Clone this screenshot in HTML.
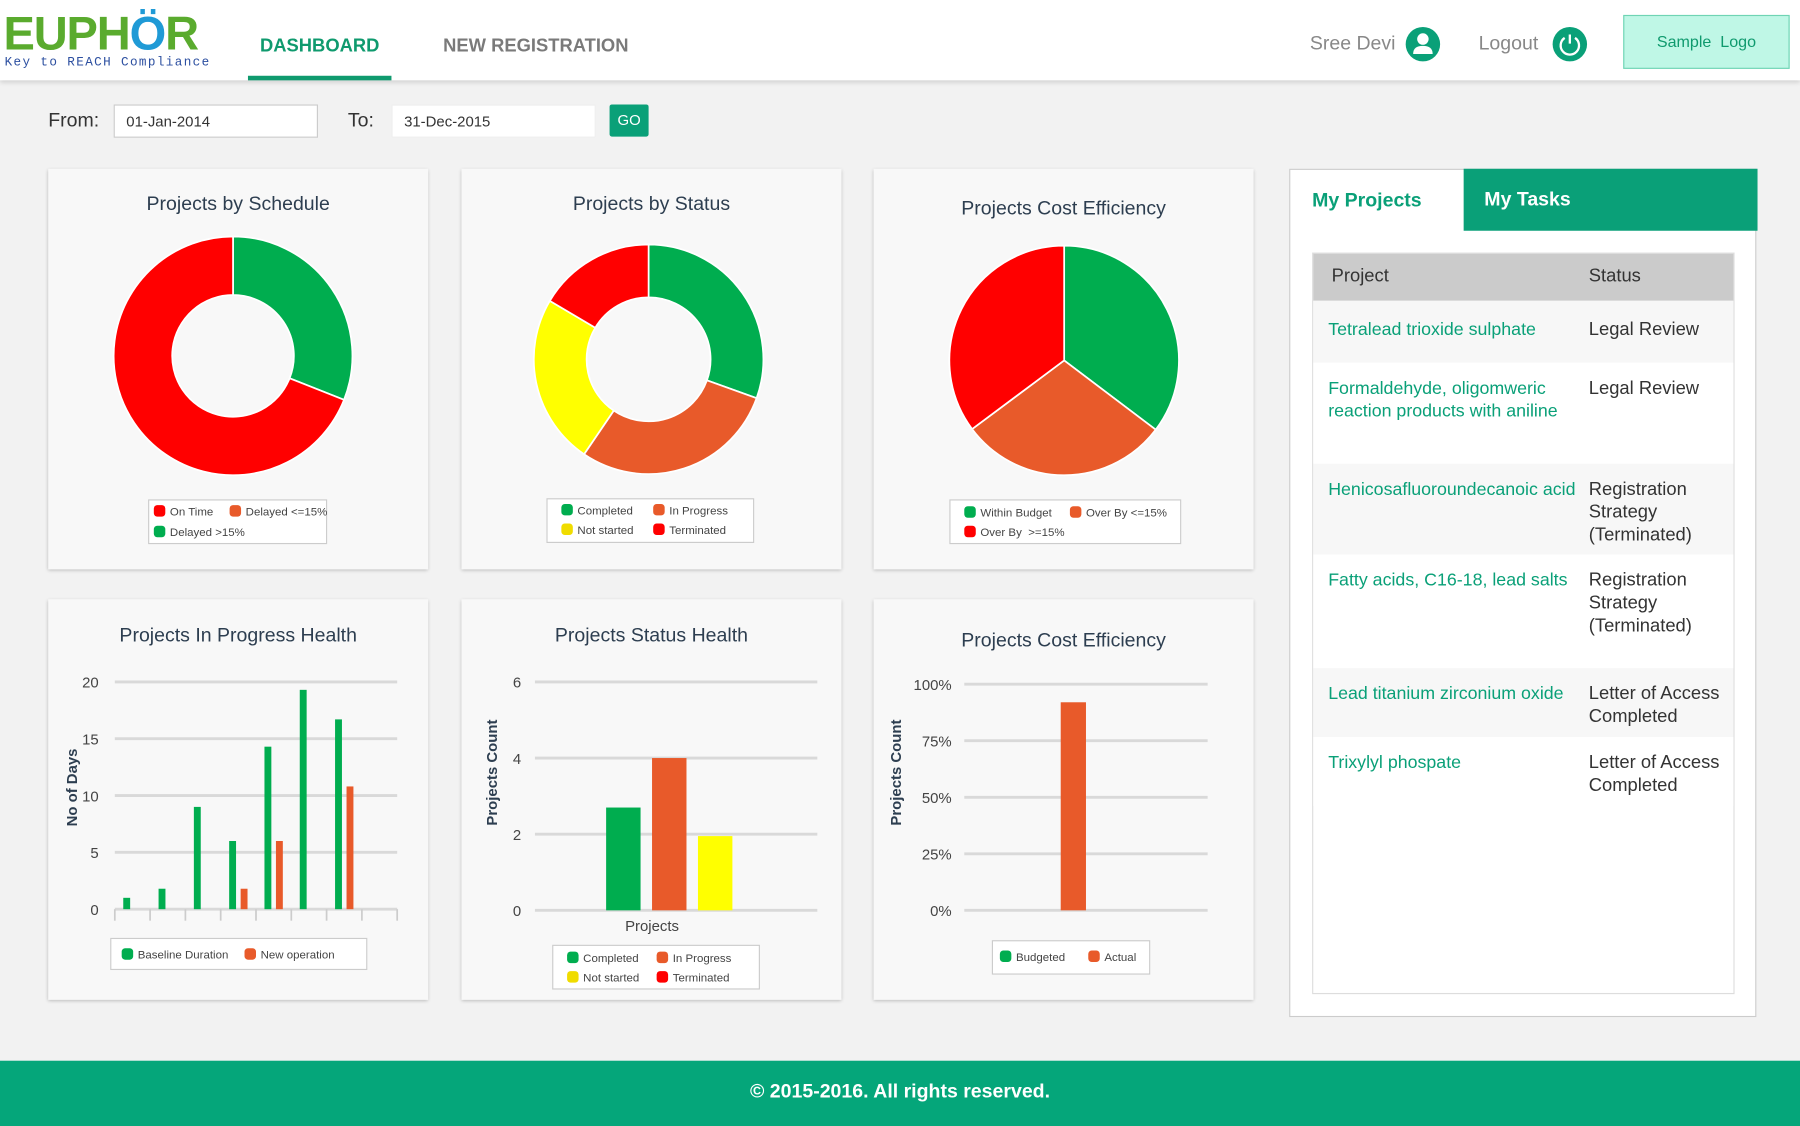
<!DOCTYPE html>
<html><head><meta charset="utf-8">
<style>
html,body{margin:0;padding:0;width:1800px;height:1126px;overflow:hidden;background:#f2f2f2;font-family:"Liberation Sans",sans-serif}
#wrap{position:absolute;left:0;top:0;width:1568px;height:981px;transform:scale(1.14796);transform-origin:0 0;background:#f2f2f2}
.abs{position:absolute}
.card{position:absolute;background:#f8f8f8;box-shadow:0 1px 3px rgba(0,0,0,.25)}
.ctitle{position:absolute;left:0;right:0;text-align:center;font-size:17px;color:#2d3e50}
.inp{position:absolute;background:#fff;border:1px solid #ccc;font-size:13px;color:#333;padding-left:10px;line-height:28px;box-sizing:border-box}
.legend{position:absolute;background:#fff;border:1px solid #ccc;font-size:10px;color:#444;box-sizing:border-box}
.li{position:absolute;white-space:nowrap}
.sw{display:inline-block;width:10px;height:10px;border-radius:3px;vertical-align:-1px;margin-right:4px}
</style></head><body>
<div id="wrap">
<div class="abs" style="left:0;top:0;width:1568px;height:70px;background:#fff;box-shadow:0 2px 4px rgba(0,0,0,.15)">
  <div class="abs" style="left:3px;top:9px;font-size:41px;line-height:41px;font-weight:bold;color:#5aab2e;letter-spacing:-1px">EUPH<span style="color:#1f9ad6">Ö</span>R</div>
  <div class="abs" style="left:4px;top:49px;font-size:11px;color:#2c4fa0;letter-spacing:1.2px;font-family:'Liberation Mono',monospace">Key to REACH Compliance</div>
  <div class="abs" style="left:216px;top:32px;width:125px;text-align:center;font-size:16px;font-weight:bold;color:#0f9a6e">DASHBOARD</div>
  <div class="abs" style="left:216px;top:66px;width:125px;height:4px;background:#0f9a6e"></div>
  <div class="abs" style="left:386px;top:32px;font-size:16px;font-weight:bold;color:#7a7a7a">NEW REGISTRATION</div>
  <div class="abs" style="left:1141px;top:28px;font-size:17px;color:#888">Sree Devi</div>
  <svg class="abs" style="left:1224px;top:23px" width="31" height="31"><circle cx="15.5" cy="15.5" r="15" fill="#0aa078"/><circle cx="15.5" cy="11" r="5" fill="#fff"/><path d="M7 24 Q7 17 15.5 17 Q24 17 24 24 Z" fill="#fff"/></svg>
  <div class="abs" style="left:1288px;top:28px;font-size:17px;color:#888">Logout</div>
  <svg class="abs" style="left:1352px;top:23px" width="31" height="31"><circle cx="15.5" cy="15.5" r="15" fill="#0aa078"/><path d="M11 10 A8 8 0 1 0 20 10" fill="none" stroke="#fff" stroke-width="2"/><line x1="15.5" y1="7" x2="15.5" y2="15" stroke="#fff" stroke-width="2"/></svg>
  <div class="abs" style="left:1414px;top:13px;width:145px;height:47px;background:#bff7e6;border:1px solid #6fd4b4;box-sizing:border-box;text-align:center;line-height:45px;font-size:14px;color:#0f9a6e">Sample&nbsp; Logo</div>
</div>

<div class="abs" style="left:42px;top:95px;font-size:17px;color:#333">From:</div>
<div class="inp" style="left:99px;top:91px;width:178px;height:29px">01-Jan-2014</div>
<div class="abs" style="left:303px;top:95px;font-size:17px;color:#333">To:</div>
<div class="inp" style="left:341px;top:91px;width:178px;height:29px;border-color:#eee">31-Dec-2015</div>
<div class="abs" style="left:531px;top:91px;width:34px;height:28px;background:#0aa078;color:#fff;font-size:13px;text-align:center;line-height:28px;border-radius:2px">GO</div>

<div class="card" style="left:42px;top:147px;width:331px;height:349px"><div class="ctitle" style="top:21px">Projects by Schedule</div></div>
<div class="card" style="left:402px;top:147px;width:331px;height:349px"><div class="ctitle" style="top:21px">Projects by Status</div></div>
<div class="card" style="left:761px;top:147px;width:331px;height:349px"><div class="ctitle" style="top:25px">Projects Cost Efficiency</div></div>
<div class="card" style="left:42px;top:522px;width:331px;height:349px"><div class="ctitle" style="top:22px">Projects In Progress Health</div></div>
<div class="card" style="left:402px;top:522px;width:331px;height:349px"><div class="ctitle" style="top:22px">Projects Status Health</div></div>
<div class="card" style="left:761px;top:522px;width:331px;height:349px"><div class="ctitle" style="top:26px">Projects Cost Efficiency</div></div>

<svg id="charts" class="abs" style="left:0;top:0" width="1568" height="981"></svg>

<div class="legend" style="left:129px;top:435px;width:156px;height:39px">
 <span class="li" style="left:4px;top:4px"><span class="sw" style="background:#f00"></span>On Time</span>
 <span class="li" style="left:70px;top:4px"><span class="sw" style="background:#e85a2a"></span>Delayed &lt;=15%</span>
 <span class="li" style="left:4px;top:22px"><span class="sw" style="background:#00ad4f"></span>Delayed &gt;15%</span>
</div>
<div class="legend" style="left:476px;top:434px;width:181px;height:39px">
 <span class="li" style="left:12px;top:4px"><span class="sw" style="background:#00ad4f"></span>Completed</span>
 <span class="li" style="left:92px;top:4px"><span class="sw" style="background:#e85a2a"></span>In Progress</span>
 <span class="li" style="left:12px;top:21px"><span class="sw" style="background:#f0dc00"></span>Not started</span>
 <span class="li" style="left:92px;top:21px"><span class="sw" style="background:#f00"></span>Terminated</span>
</div>
<div class="legend" style="left:827px;top:435px;width:202px;height:39px">
 <span class="li" style="left:12px;top:5px"><span class="sw" style="background:#00ad4f"></span>Within Budget</span>
 <span class="li" style="left:104px;top:5px"><span class="sw" style="background:#e85a2a"></span>Over By &lt;=15%</span>
 <span class="li" style="left:12px;top:22px"><span class="sw" style="background:#f00"></span>Over By &nbsp;&gt;=15%</span>
</div>
<div class="legend" style="left:96px;top:817px;width:224px;height:28px">
 <span class="li" style="left:9px;top:8px"><span class="sw" style="background:#00ad4f"></span>Baseline Duration</span>
 <span class="li" style="left:116px;top:8px"><span class="sw" style="background:#e85a2a"></span>New operation</span>
</div>
<div class="legend" style="left:481px;top:823px;width:181px;height:39px">
 <span class="li" style="left:12px;top:5px"><span class="sw" style="background:#00ad4f"></span>Completed</span>
 <span class="li" style="left:90px;top:5px"><span class="sw" style="background:#e85a2a"></span>In Progress</span>
 <span class="li" style="left:12px;top:22px"><span class="sw" style="background:#f0dc00"></span>Not started</span>
 <span class="li" style="left:90px;top:22px"><span class="sw" style="background:#f00"></span>Terminated</span>
</div>
<div class="legend" style="left:864px;top:819px;width:138px;height:30px">
 <span class="li" style="left:6px;top:8px"><span class="sw" style="background:#00ad4f"></span>Budgeted</span>
 <span class="li" style="left:83px;top:8px"><span class="sw" style="background:#e85a2a"></span>Actual</span>
</div>

<div class="abs" style="left:1123px;top:147px;width:407px;height:739px;background:#fff;border:1px solid #ccc;box-sizing:border-box">
  <div class="abs" style="left:0;top:0;width:151px;height:53px;line-height:53px;padding-left:19px;box-sizing:border-box;font-size:17px;font-weight:bold;color:#0aa078">My Projects</div>
  <div class="abs" style="left:151px;top:-1px;width:256px;height:54px;line-height:54px;padding-left:18px;box-sizing:border-box;background:#0aa078;font-size:17px;font-weight:bold;color:#fff">My Tasks</div>
  <div class="abs" style="left:19px;top:72px;width:368px;height:646px;border:1px solid #ddd;box-sizing:border-box;font-size:16px">
    <div class="abs" style="left:0;top:0;width:366px;height:41px;background:#cbcbcb;color:#333">
      <span class="abs" style="left:16px;top:11px">Project</span><span class="abs" style="left:240px;top:11px">Status</span></div>
    <div id="rows"></div>
  </div>
</div>

<div class="abs" style="left:0;top:924px;width:1568px;height:57px;background:#05a67a;color:#fff;text-align:center;line-height:54px;font-size:17px;font-weight:bold">© 2015-2016. All rights reserved.</div>
</div>

<script>
// ---- data ----
const scheduleLabels=["Delayed >15%","On Time","Delayed <=15%"];
const scheduleValues=[31,69,0];
const statusLabels=["Completed","In Progress","Not started","Terminated"];
const statusValues=[30.5,29,24,16.5];
const costLabels=["Within Budget","Over By <=15%","Over By >=15%"];
const costValues=[35.3,29.5,35.2];
const healthCategories=["C1","C2","C3","C4","C5","C6","C7","C8"];
const healthBaseline=[1,1.8,9,6,14.3,19.3,16.7,0];
const healthNewOp=[0,0,0,1.8,6,0,10.8,0];
const healthTicks=[0,5,10,15,20];
const statusHealthCats=["Completed","In Progress","Not started","Terminated"];
const statusHealthValues=[2.7,4,1.95,0];
const statusHealthTicks=[0,2,4,6];
const costBarCats=["Budgeted","Actual"];
const costBarValues=[0,92];
const costBarTicks=["0%","25%","50%","75%","100%"];
const projectNames=["Tetralead trioxide sulphate","Formaldehyde, oligomweric<br>reaction products with aniline","Henicosafluoroundecanoic acid","Fatty acids, C16-18, lead salts","Lead titanium zirconium oxide","Trixylyl phospate"];
const projectStatus=["Legal Review","Legal Review","Registration<br>Strategy<br>(Terminated)","Registration<br>Strategy<br>(Terminated)","Letter of Access<br>Completed","Letter of Access<br>Completed"];

const NS="http://www.w3.org/2000/svg";
const svg=document.getElementById('charts');
function mk(tag,attrs,parent){const e=document.createElementNS(NS,tag);for(const k in attrs)e.setAttribute(k,attrs[k]);(parent||svg).appendChild(e);return e;}

function pie(cx,cy,r,ri,values,colors,name){
  const tot=values.reduce((a,b)=>a+b,0);let a0=0;
  values.forEach((v,i)=>{
    if(v<=0)return;
    const a1=a0+v/tot*Math.PI*2;
    const p=(a,rr)=>[cx+rr*Math.sin(a),cy-rr*Math.cos(a)];
    const large=(a1-a0)>Math.PI?1:0;
    const [x0,y0]=p(a0,r),[x1,y1]=p(a1,r);
    let d=`M${x0} ${y0} A${r} ${r} 0 ${large} 1 ${x1} ${y1}`;
    if(ri>0){const [x2,y2]=p(a1,ri),[x3,y3]=p(a0,ri);d+=` L${x2} ${y2} A${ri} ${ri} 0 ${large} 0 ${x3} ${y3} Z`;}
    else d+=` L${cx} ${cy} Z`;
    const el=mk('path',{d:d,fill:colors[i],stroke:'#fff','stroke-width':1.5});
    
    
    a0=a1;
  });
}
pie(203,310,104,53,scheduleValues,["#00ad4f","#f00","#e85a2a"],'schedule');
pie(565,313,100,54,statusValues,["#00ad4f","#e85a2a","#ff0","#f00"],'status');
pie(927,314,100,0,costValues,["#00ad4f","#e85a2a","#f00"],'cost');

function txt(x,y,s,attrs){const t=mk('text',Object.assign({x:x,y:y,'font-size':13,fill:'#444','font-family':'Liberation Sans, sans-serif'},attrs||{}));t.textContent=s;return t;}
function grid(x0,x1,y,name){const l=mk('line',{x1:x0,x2:x1,y1:y,y2:y,stroke:'#d9d9d9','stroke-width':2.5});}

// chart 1
(function(){
  const x0=100,x1=346,yb=792,yt=594,max=20;
  const Y=v=>yb-(v/max)*(yb-yt);
  healthTicks.forEach(t=>{grid(x0,x1,Y(t),'health-gridline');const e=txt(86,Y(t)+5,String(t),{'text-anchor':'end'});});
  const step=(x1-x0)/healthCategories.length;
  for(let i=0;i<=healthCategories.length;i++){const l=mk('line',{x1:x0+i*step,x2:x0+i*step,y1:yb,y2:yb+10,stroke:'#ccc','stroke-width':1.5});}
  healthCategories.forEach((c,i)=>{
    const cx=x0+step*(i+0.5);
    if(healthBaseline[i]>0){const r=mk('rect',{x:cx-8,y:Y(healthBaseline[i]),width:6,height:yb-Y(healthBaseline[i]),fill:'#00ad4f'});}
    if(healthNewOp[i]>0){const r=mk('rect',{x:cx+2,y:Y(healthNewOp[i]),width:6,height:yb-Y(healthNewOp[i]),fill:'#e85a2a'});}
  });
  const t=txt(0,0,'No of Days',{transform:'translate(67,686) rotate(-90)','text-anchor':'middle','font-weight':'bold','font-size':13,fill:'#2d3e50'});
  
})();
// chart 2
(function(){
  const x0=466,x1=712,yb=793,yt=594,max=6;
  const Y=v=>yb-(v/max)*(yb-yt);
  statusHealthTicks.forEach(t=>{grid(x0,x1,Y(t),'status-health-gridline');const e=txt(454,Y(t)+5,String(t),{'text-anchor':'end'});});
  const cols=["#00ad4f","#e85a2a","#ff0","#f00"];
  const bw=30,start=528;
  statusHealthCats.forEach((c,i)=>{const v=statusHealthValues[i];if(v<=0)return;
    const r=mk('rect',{x:start+i*40,y:Y(v),width:bw,height:yb-Y(v),fill:cols[i]});});
  const xl=txt(568,811,'Projects',{'text-anchor':'middle'});
  const t=txt(0,0,'Projects Count',{transform:'translate(433,673) rotate(-90)','text-anchor':'middle','font-weight':'bold',fill:'#2d3e50'});
  
})();
// chart 3
(function(){
  const x0=840,x1=1052,yb=793,yt=596,max=100;
  const Y=v=>yb-(v/max)*(yb-yt);
  costBarTicks.forEach((t,i)=>{const v=i*25;grid(x0,x1,Y(v),'cost-bar-gridline');const e=txt(829,Y(v)+5,t,{'text-anchor':'end'});});
  const cols=["#00ad4f","#e85a2a"];
  costBarCats.forEach((c,i)=>{const v=costBarValues[i];if(v<=0)return;
    const r=mk('rect',{x:900+i*24,y:Y(v),width:22,height:yb-Y(v),fill:cols[i]});});
  const t=txt(0,0,'Projects Count',{transform:'translate(785,673) rotate(-90)','text-anchor':'middle','font-weight':'bold',fill:'#2d3e50'});
  
})();

// table rows
const rowTops=[41,95,183,262,361,421];const rowH=[54,88,79,99,60,60];
const rows=document.getElementById('rows');
projectNames.forEach((n,i)=>{
  const d=document.createElement('div');
  d.className='abs';
  
  
  d.style.cssText=`left:0;top:${rowTops[i]}px;width:366px;height:${rowH[i]}px;background:${i%2==0?'#f7f7f7':'#fff'};`;
  d.innerHTML=`<span class="abs" style="left:13px;top:16px;color:#0aa078;line-height:20px;font-size:15.5px">${n}</span><span class="abs" style="left:240px;top:16px;color:#333;line-height:20px">${projectStatus[i]}</span>`;
  if(i>=1){d.children[0].style.top='13px';d.children[1].style.top='13px';}
  rows.appendChild(d);
});
</script>
</body></html>
